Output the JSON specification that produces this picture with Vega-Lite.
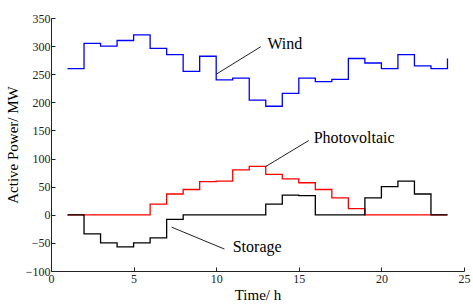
{
  "$schema": "https://vega.github.io/schema/vega-lite/v6.json",
  "width": 413,
  "height": 253,
  "autosize": {"type": "none"},
  "padding": {"left": 51, "top": 18, "right": 9, "bottom": 33},
  "background": "white",
  "config": {
    "view": {"stroke": null},
    "font": "Liberation Serif",
    "axis": {
      "grid": false,
      "domainColor": "#222",
      "tickColor": "#222",
      "labelColor": "#222",
      "titleColor": "#000",
      "labelFont": "Liberation Serif",
      "titleFont": "Liberation Serif",
      "labelFontSize": 12,
      "titleFontSize": 15,
      "titleFontWeight": "normal",
      "labelOverlap": false,
      "labelBound": false,
      "labelFlush": false,
      "labelSeparation": 0
    }
  },
  "datasets": {
    "series": [
      {"h": 1, "v": 260, "s": "Wind"}, {"h": 2, "v": 305, "s": "Wind"}, {"h": 3, "v": 300, "s": "Wind"},
      {"h": 4, "v": 310, "s": "Wind"}, {"h": 5, "v": 320, "s": "Wind"}, {"h": 6, "v": 296, "s": "Wind"},
      {"h": 7, "v": 285, "s": "Wind"}, {"h": 8, "v": 255, "s": "Wind"}, {"h": 9, "v": 282, "s": "Wind"},
      {"h": 10, "v": 240, "s": "Wind"}, {"h": 11, "v": 243, "s": "Wind"}, {"h": 12, "v": 204, "s": "Wind"},
      {"h": 13, "v": 193, "s": "Wind"}, {"h": 14, "v": 216, "s": "Wind"}, {"h": 15, "v": 243, "s": "Wind"},
      {"h": 16, "v": 237, "s": "Wind"}, {"h": 17, "v": 241, "s": "Wind"}, {"h": 18, "v": 278, "s": "Wind"},
      {"h": 19, "v": 270, "s": "Wind"}, {"h": 20, "v": 260, "s": "Wind"}, {"h": 21, "v": 285, "s": "Wind"},
      {"h": 22, "v": 265, "s": "Wind"}, {"h": 23, "v": 260, "s": "Wind"}, {"h": 24, "v": 278, "s": "Wind"},
      {"h": 1, "v": 0, "s": "Photovoltaic"}, {"h": 2, "v": 0, "s": "Photovoltaic"}, {"h": 3, "v": 0, "s": "Photovoltaic"},
      {"h": 4, "v": 0, "s": "Photovoltaic"}, {"h": 5, "v": 0, "s": "Photovoltaic"}, {"h": 6, "v": 19, "s": "Photovoltaic"},
      {"h": 7, "v": 37, "s": "Photovoltaic"}, {"h": 8, "v": 45, "s": "Photovoltaic"}, {"h": 9, "v": 59, "s": "Photovoltaic"},
      {"h": 10, "v": 60, "s": "Photovoltaic"}, {"h": 11, "v": 80, "s": "Photovoltaic"}, {"h": 12, "v": 86, "s": "Photovoltaic"},
      {"h": 13, "v": 72, "s": "Photovoltaic"}, {"h": 14, "v": 64, "s": "Photovoltaic"}, {"h": 15, "v": 57, "s": "Photovoltaic"},
      {"h": 16, "v": 45, "s": "Photovoltaic"}, {"h": 17, "v": 30, "s": "Photovoltaic"}, {"h": 18, "v": 11, "s": "Photovoltaic"},
      {"h": 19, "v": 0, "s": "Photovoltaic"}, {"h": 20, "v": 0, "s": "Photovoltaic"}, {"h": 21, "v": 0, "s": "Photovoltaic"},
      {"h": 22, "v": 0, "s": "Photovoltaic"}, {"h": 23, "v": 0, "s": "Photovoltaic"}, {"h": 24, "v": 0, "s": "Photovoltaic"},
      {"h": 1, "v": 0, "s": "Storage"}, {"h": 2, "v": -34, "s": "Storage"}, {"h": 3, "v": -50, "s": "Storage"},
      {"h": 4, "v": -57, "s": "Storage"}, {"h": 5, "v": -50, "s": "Storage"}, {"h": 6, "v": -41, "s": "Storage"},
      {"h": 7, "v": -8, "s": "Storage"}, {"h": 8, "v": 0, "s": "Storage"}, {"h": 9, "v": 0, "s": "Storage"},
      {"h": 10, "v": 0, "s": "Storage"}, {"h": 11, "v": 0, "s": "Storage"}, {"h": 12, "v": 0, "s": "Storage"},
      {"h": 13, "v": 19, "s": "Storage"}, {"h": 14, "v": 35, "s": "Storage"}, {"h": 15, "v": 34, "s": "Storage"},
      {"h": 16, "v": 0, "s": "Storage"}, {"h": 17, "v": 0, "s": "Storage"}, {"h": 18, "v": 0, "s": "Storage"},
      {"h": 19, "v": 30, "s": "Storage"}, {"h": 20, "v": 50, "s": "Storage"}, {"h": 21, "v": 60, "s": "Storage"},
      {"h": 22, "v": 37, "s": "Storage"}, {"h": 23, "v": 0, "s": "Storage"}, {"h": 24, "v": 0, "s": "Storage"}
    ],
    "leaders": [
      {"h": 10, "v": 250, "h2": 12.7, "v2": 299},
      {"h": 12.95, "v": 85, "h2": 15.6, "v2": 132},
      {"h": 7.3, "v": -22, "h2": 10.5, "v2": -61}
    ],
    "labels": [
      {"label": "Wind", "h": 13.1, "v": 303},
      {"label": "Photovoltaic", "h": 15.9, "v": 136},
      {"label": "Storage", "h": 11.0, "v": -58}
    ]
  },
  "encoding": {
    "x": {
      "field": "h", "type": "quantitative",
      "scale": {"domain": [0, 25], "nice": false, "zero": false},
      "axis": {
        "values": [0, 5, 10, 15, 20, 25], "title": "Time/ h", "titlePadding": 3,
        "labelOverlap": false, "format": "d",
        "tickSize": -4, "labelPadding": 6
      }
    },
    "y": {
      "field": "v", "type": "quantitative",
      "scale": {"domain": [-100, 350], "nice": false},
      "axis": {
        "values": [-100, -50, 0, 50, 100, 150, 200, 250, 300, 350], "title": "Active Power/ MW", "titlePadding": 5,
        "labelOverlap": false, "format": "d",
        "tickSize": -4, "labelPadding": 5
      }
    }
  },
  "layer": [
    {
      "data": {"name": "series"},
      "mark": {"type": "line", "interpolate": "step-after", "strokeWidth": 1.3},
      "encoding": {
        "color": {
          "field": "s", "type": "nominal",
          "scale": {"domain": ["Wind", "Photovoltaic", "Storage"], "range": ["#0000ff", "#ff0000", "#000000"]},
          "legend": null
        }
      }
    },
    {
      "data": {"name": "leaders"},
      "mark": {"type": "rule", "color": "#222", "strokeWidth": 1},
      "encoding": {
        "x2": {"field": "h2"},
        "y2": {"field": "v2"}
      }
    },
    {
      "data": {"name": "labels"},
      "mark": {"type": "text", "align": "left", "baseline": "middle", "fontSize": 16, "font": "Liberation Serif", "color": "#000"},
      "encoding": {
        "text": {"field": "label"}
      }
    }
  ]
}
